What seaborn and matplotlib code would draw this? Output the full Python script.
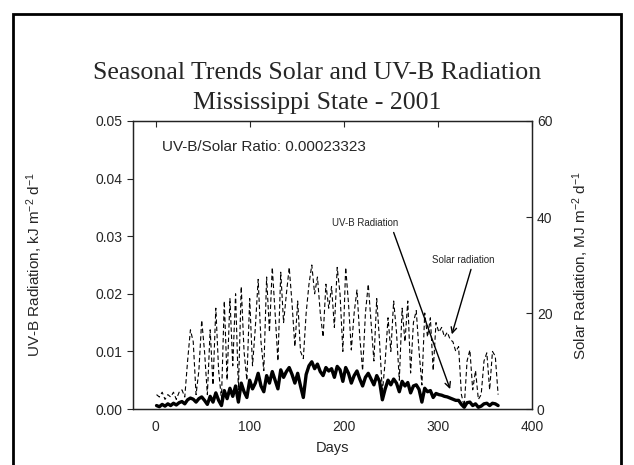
import matplotlib
matplotlib.use("Agg")
import matplotlib.pyplot as plt
import seaborn as sns
import numpy as np
import pandas as pd
from matplotlib.patches import Rectangle

# Daily records sampled every 3 days (day of year)
days = np.arange(1, 366, 3)

# Solar radiation, MJ m-2 d-1 (right axis)
solar = [3, 2.5, 3.5, 2, 3, 2.5, 3.5, 2, 3.5, 4,
         2.5, 10, 16.5, 14, 3, 8, 18.5, 12, 3, 16.5,
         5, 21, 8, 2, 22.5, 6, 23, 9, 24, 4,
         25.5, 12, 6, 23, 9, 17, 27, 14, 8, 27.5,
         16, 29.5, 20, 10, 28.5, 18, 24, 29.5, 22, 13,
         22.5, 12, 10.5, 20, 26, 30, 24, 27.5, 20, 15,
         26, 21, 25.5, 17, 29.5, 24, 12, 29.5, 22, 12.3,
         20, 24.8, 15, 8, 20, 26, 18, 10, 23, 14,
         3.5, 10, 19, 12, 22.5, 16, 6, 21, 14, 22.5,
         7.5, 18, 20.5, 12, 5, 20, 15, 19, 8, 18,
         16, 17, 15, 16, 14.5, 14, 12, 13, 3, 0.5,
         10, 12.3, 4, 8, 2, 3, 10, 11.7, 4, 12,
         11, 3]

# UV-B radiation, kJ m-2 d-1 (left axis)
uvb = [0.0006, 0.0004, 0.0008, 0.0005, 0.0009, 0.0006, 0.0010, 0.0007, 0.0011, 0.0013,
       0.0009, 0.0016, 0.0019, 0.0017, 0.0012, 0.0018, 0.0021, 0.0015, 0.0008, 0.0022,
       0.0012, 0.0028, 0.0015, 0.0006, 0.0032, 0.0018, 0.0036, 0.0022, 0.0040, 0.0012,
       0.0045, 0.0030, 0.0020, 0.0050, 0.0035, 0.0045, 0.0062, 0.0040, 0.0030, 0.0058,
       0.0045, 0.0065, 0.0050, 0.0035, 0.0068, 0.0055, 0.0065, 0.0072, 0.0060, 0.0045,
       0.0062, 0.0040, 0.0020, 0.0060, 0.0075, 0.0082, 0.0070, 0.0078, 0.0065, 0.0058,
       0.0072, 0.0066, 0.0070, 0.0055, 0.0074, 0.0068, 0.0048, 0.0072, 0.0062, 0.0045,
       0.0058, 0.0066, 0.0052, 0.0040, 0.0055, 0.0062, 0.0052, 0.0042, 0.0058, 0.0048,
       0.0016, 0.0035, 0.0050, 0.0042, 0.0052, 0.0045, 0.0030, 0.0048, 0.0040, 0.0046,
       0.0028, 0.0040, 0.0042, 0.0034, 0.0012, 0.0036, 0.0030, 0.0032, 0.0020, 0.0027,
       0.0025, 0.0024, 0.0022, 0.0021, 0.0019, 0.0017, 0.0015, 0.0015, 0.0008, 0.0003,
       0.0011, 0.0012, 0.0006, 0.0009, 0.0003, 0.0005, 0.0009, 0.0010, 0.0006, 0.0010,
       0.0009, 0.0006]

x_ticks = [0, 100, 200, 300, 400]
uvb_ticks = [0.00, 0.01, 0.02, 0.03, 0.04, 0.05]
solar_ticks = [0, 20, 40, 60]

df = pd.DataFrame({"Day": days, "UVB": uvb, "Solar": solar})

sns.set_style("white")
plt.rcParams["font.family"] = ["Liberation Sans", "DejaVu Sans"]
plt.rcParams["mathtext.default"] = "regular"

fig = plt.figure(figsize=(6.34, 4.65), dpi=100)
ax = fig.add_axes([0.2098, 0.1204, 0.6293, 0.6194])
ax2 = ax.twinx()

# slide border
fig.patches.append(Rectangle((0.02, -0.05), 0.96, 1.02, transform=fig.transFigure,
                             fill=False, edgecolor="black", linewidth=2))

sns.lineplot(data=df, x="Day", y="UVB", ax=ax, color="black", linewidth=2.4)
sns.lineplot(data=df, x="Day", y="Solar", ax=ax2, color="black", linewidth=0.8,
             linestyle=(0, (4, 2.5)))

ax.set_xlim(-24, 400)
ax.set_ylim(0, 0.05)
ax2.set_ylim(0, 60)
ax.set_xticks(x_ticks)
ax.set_yticks(uvb_ticks)
ax.set_yticklabels([f"{v:.2f}" for v in uvb_ticks])
ax2.set_yticks(solar_ticks)

for a in (ax, ax2):
    for s in a.spines.values():
        s.set_color("#222222")
        s.set_linewidth(0.9)
ax.tick_params(axis="x", direction="in", top=True, length=4, labelsize=10, pad=8)
ax.tick_params(axis="y", direction="out", length=4, labelsize=10)
ax2.tick_params(axis="y", direction="in", length=4, labelsize=10)

ax.set_xlabel("Days", fontsize=10.5, labelpad=5)
ax.set_ylabel("UV-B Radiation, kJ m$^{-2}$ d$^{-1}$", fontsize=11, labelpad=36)
ax2.set_ylabel("Solar Radiation, MJ m$^{-2}$ d$^{-1}$", fontsize=11, labelpad=13)

ax.text(7, 0.0455, "UV-B/Solar Ratio: 0.00023323", fontsize=11, ha="left", va="center")

ax.text(223, 0.0323, "UV-B Radiation", fontsize=7, ha="center", va="center")
ax.annotate("", xy=(314, 0.003), xytext=(252, 0.0311),
            arrowprops=dict(arrowstyle="->", color="black", lw=1))
ax.text(327, 0.0259, "Solar radiation", fontsize=7, ha="center", va="center")
ax.annotate("", xy=(314, 0.0125), xytext=(336, 0.0247),
            arrowprops=dict(arrowstyle="->", color="black", lw=1))

fig.text(0.5, 0.843, "Seasonal Trends Solar and UV-B Radiation", ha="center", va="center",
         fontsize=18.6, family=["Liberation Serif", "DejaVu Serif"])
fig.text(0.5, 0.778, "Mississippi State - 2001", ha="center", va="center",
         fontsize=18.6, family=["Liberation Serif", "DejaVu Serif"])

fig.savefig("out.png", dpi=100)
